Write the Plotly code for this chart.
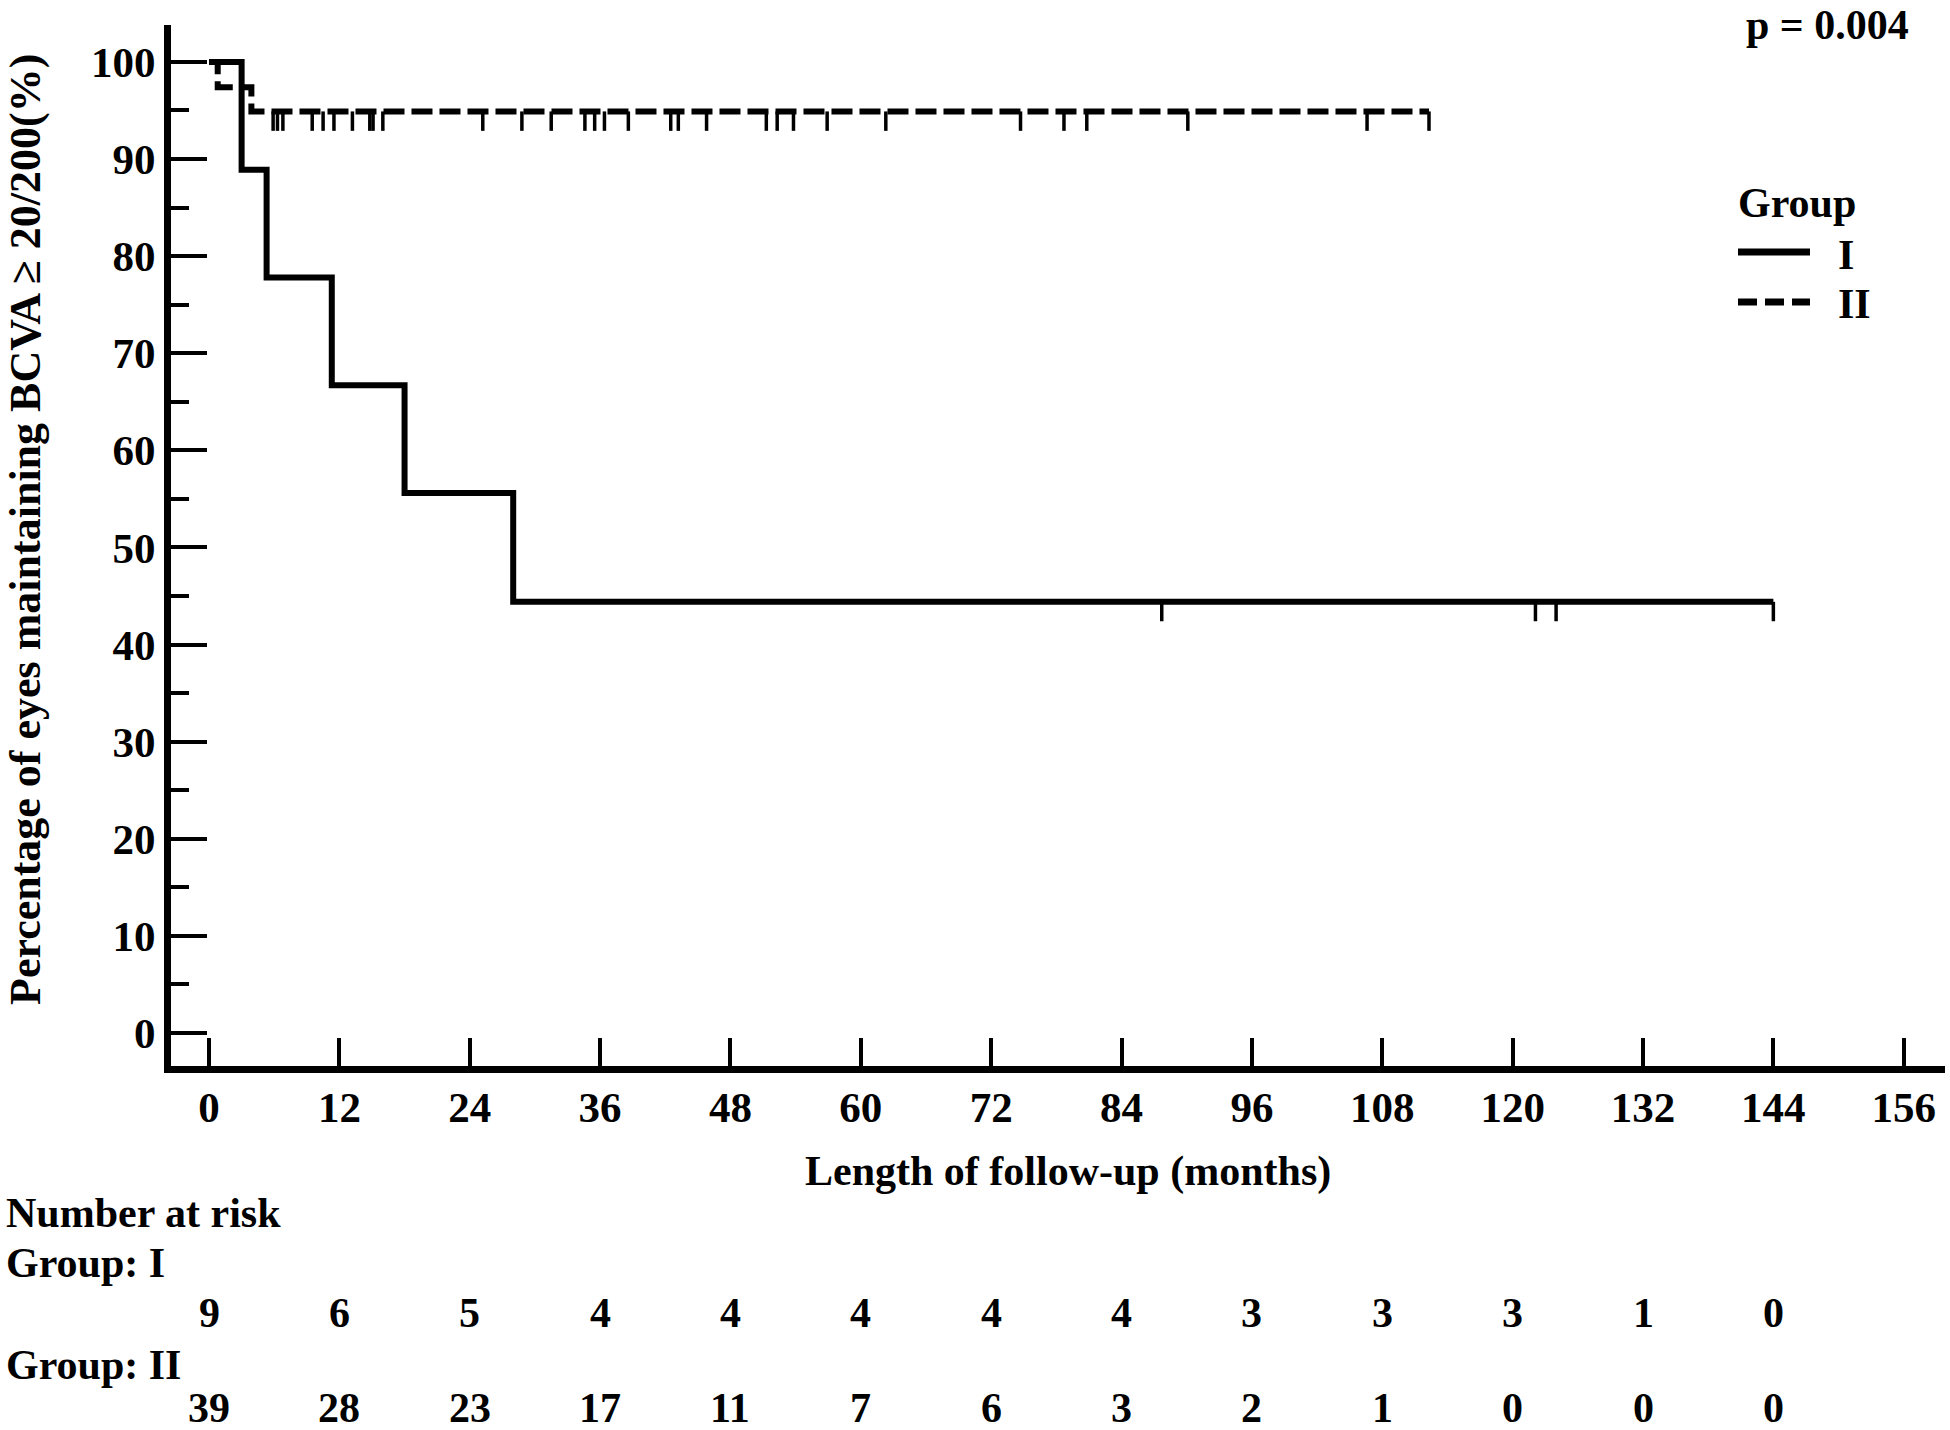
import plotly.graph_objects as go

W, H = 1950, 1430
ML, MR, MT, MB = 171, 5, 25, 364
FONT = "Liberation Serif"

# Kaplan-Meier steps (months, % maintaining)
g1_time = [0, 3.0, 5.3, 11.3, 18.0, 28.0, 144.0]
g1_surv = [100, 88.9, 77.8, 66.7, 55.6, 44.4, 44.4]
g1_cens = [87.7, 122.1, 124.0, 144.0]

g2_time = [0, 0.8, 3.9, 112.3]
g2_surv = [100, 97.4, 94.9, 94.9]
g2_cens = [5.9, 6.3, 6.8, 9.5, 10.5, 11.5, 13.2, 14.8, 15.1, 16.0,
           25.2, 28.8, 31.5, 34.6, 35.5, 36.4, 38.6, 42.5, 43.2, 45.8,
           51.3, 52.3, 53.8, 56.9, 62.3, 74.7, 78.7, 80.8, 90.1, 106.6, 112.3]

risk_months = [0, 12, 24, 36, 48, 60, 72, 84, 96, 108, 120, 132, 144]
risk_g1 = [9, 6, 5, 4, 4, 4, 4, 4, 3, 3, 3, 1, 0]
risk_g2 = [39, 28, 23, 17, 11, 7, 6, 3, 2, 1, 0, 0, 0]

x_range = [-3.5, 159.8]
y_range = [-3.4, 103.8]


def surv_at(t, times, surv):
    s = surv[0]
    for tt, ss in zip(times, surv):
        if tt <= t:
            s = ss
    return s


def px(xp):
    return (xp - ML) / (W - ML - MR)


def py(yp):
    return (H - MB - yp) / (H - MT - MB)


fig = go.Figure()

fig.add_trace(go.Scatter(x=g2_time, y=g2_surv, mode="lines", line_shape="hv",
                         line=dict(color="black", width=6, dash="21px,7px"), name="II"))
fig.add_trace(go.Scatter(x=g1_time, y=g1_surv, mode="lines", line_shape="hv",
                         line=dict(color="black", width=6), name="I"))

# censoring ticks hanging below the curves
for cens, times, surv in [(g1_cens, g1_time, g1_surv), (g2_cens, g2_time, g2_surv)]:
    fig.add_trace(go.Scatter(
        x=cens, y=[surv_at(t, times, surv) for t in cens], mode="markers",
        marker=dict(size=1, color="rgba(0,0,0,0)"),
        error_y=dict(type="data", symmetric=False, array=[0] * len(cens),
                     arrayminus=[2.0] * len(cens), width=0, thickness=3.5, color="black"),
        showlegend=False, hoverinfo="skip"))

tickfont = dict(family=FONT, size=43, color="black", weight="bold")
txt = dict(family=FONT, size=42, color="black", weight="bold")

fig.update_xaxes(range=x_range, tickvals=risk_months + [156], ticks="inside", ticklen=28,
                 tickwidth=4, tickcolor="black", showline=True, linewidth=7, linecolor="black",
                 showgrid=False, zeroline=False, tickfont=tickfont, ticklabelstandoff=-3)
fig.update_yaxes(range=y_range, tickvals=list(range(0, 101, 10)), ticks="inside", ticklen=36,
                 tickwidth=4, tickcolor="black", showline=True, linewidth=7, linecolor="black",
                 showgrid=False, zeroline=False, tickfont=tickfont, ticklabelstandoff=0,
                 minor=dict(dtick=5, ticks="inside", ticklen=18, tickwidth=4, tickcolor="black"))

ann = []
ann.append(dict(text="Percentage of eyes maintaining BCVA ≥ 20/200(%)", textangle=-90,
                xref="paper", yref="paper", x=px(25), y=py(530), showarrow=False,
                xanchor="center", yanchor="middle",
                font=dict(family=FONT, size=44, color="black", weight="bold")))
ann.append(dict(text="Length of follow-up (months)", xref="paper", yref="paper",
                x=px(1068), y=py(1171), showarrow=False, xanchor="center", yanchor="middle", font=txt))
ann.append(dict(text="p = 0.004", xref="paper", yref="paper", x=px(1910), y=py(25),
                showarrow=False, xanchor="right", yanchor="middle", font=txt, borderpad=0))

# legend
ann.append(dict(text="Group", xref="paper", yref="paper", x=px(1736), y=py(203),
                showarrow=False, xanchor="left", yanchor="middle", font=txt))
ann.append(dict(text="I", xref="paper", yref="paper", x=px(1836), y=py(255),
                showarrow=False, xanchor="left", yanchor="middle", font=txt))
ann.append(dict(text="II", xref="paper", yref="paper", x=px(1836), y=py(304),
                showarrow=False, xanchor="left", yanchor="middle", font=txt))
fig.add_shape(type="line", xref="paper", yref="paper", x0=px(1738), x1=px(1810),
              y0=py(252), y1=py(252), line=dict(color="black", width=7))
fig.add_shape(type="line", xref="paper", yref="paper", x0=px(1738), x1=px(1810),
              y0=py(302), y1=py(302), line=dict(color="black", width=7, dash="19px,8px"))

# number at risk table
for label, yp in [("Number at risk", 1213), ("Group: I", 1263), ("Group: II", 1365)]:
    ann.append(dict(text=label, xref="paper", yref="paper", x=px(4), y=py(yp),
                    showarrow=False, xanchor="left", yanchor="middle", font=txt))
for vals, yp in [(risk_g1, 1313), (risk_g2, 1408)]:
    for m, v in zip(risk_months, vals):
        ann.append(dict(text=str(v), xref="x", yref="paper", x=m, y=py(yp),
                        showarrow=False, xanchor="center", yanchor="middle", font=txt,
                        borderpad=0))

fig.update_layout(width=W, height=H, margin=dict(l=ML, r=MR, t=MT, b=MB),
                  paper_bgcolor="white", plot_bgcolor="white", showlegend=False,
                  annotations=ann)

fig.write_html("out.html", config={"displayModeBar": False},
               post_script="document.body.style.margin='0';")
